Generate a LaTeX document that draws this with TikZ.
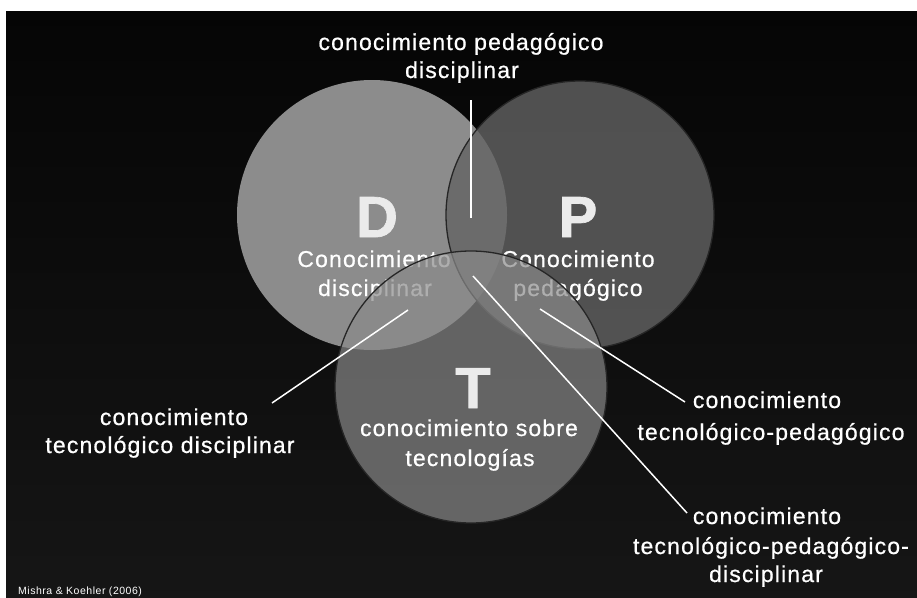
\documentclass[tikz,border=0pt]{standalone}
\usepackage{fontspec}
\setmainfont{Liberation Sans}[LetterSpace=5]
\newfontfamily\lblfont{Liberation Sans}[LetterSpace=5, FakeBold=0.7]
\newfontfamily\bigfont{Liberation Sans Bold}[FakeBold=1.2]
\definecolor{dfill}{gray}{0.55}
\definecolor{pfill}{gray}{0.39}
\definecolor{tfill}{gray}{0.54}
\definecolor{lettercol}{gray}{0.92}
\definecolor{bgtop}{gray}{0.02}
\definecolor{bgbot}{gray}{0.085}
\begin{document}
\begin{tikzpicture}[x=1pt,y=-1pt,
  lbl/.style={text=white, font=\lblfont\fontsize{23}{29}\selectfont, inner sep=0pt, anchor=base},
  bigletter/.style={font=\bigfont\fontsize{58}{58}\selectfont, inner sep=0pt, anchor=base, text=lettercol},
  conn/.style={draw=white, line width=1.5pt},
  ring/.style={draw=black!85, line width=1.3pt}]
\useasboundingbox (0,0) rectangle (917,597);
\fill[white] (0,0) rectangle (917,597);
\shade[top color=bgtop, bottom color=bgbot] (6,11) rectangle (917,597);

% D circle
\fill[dfill] (372,215) circle[radius=135pt];
\node[bigletter] (D) at (377,237) {D};
\node[lbl] (Dt1) at (374,267) {Conocimiento};
\node[lbl] (Dt2) at (375,296) {disciplinar};

% P circle
\fill[pfill, fill opacity=0.8] (580,215) circle[radius=134pt];
\draw[ring] (580,215) circle[radius=134pt];
\node[bigletter] (P) at (578,237) {P};
\node[lbl] (Pt1) at (578,267) {Conocimiento};
\node[lbl] (Pt2) at (578,296) {pedagógico};

% T circle
\fill[tfill, fill opacity=0.69] (471,387) circle[radius=136pt];
\draw[ring] (471,387) circle[radius=136pt];
\node[bigletter] (T) at (473,408) {T};
\node[lbl] (Tt1) at (469,436) {conocimiento sobre};
\node[lbl] (Tt2) at (470,466) {tecnologías};

% outer labels
\node[lbl] (top1) at (461,50) {conocimiento pedagógico};
\node[lbl] (top2) at (462,78) {disciplinar};
\node[lbl] (left1) at (174,425) {conocimiento};
\node[lbl] (left2) at (170,453) {tecnológico disciplinar};
\node[lbl] (r1a) at (767,408) {conocimiento};
\node[lbl] (r1b) at (771,440) {tecnológico-pedagógico};
\node[lbl] (r2a) at (767,524) {conocimiento};
\node[lbl] (r2b) at (771,554) {tecnológico-pedagógico-};
\node[lbl] (r2c) at (766,582) {disciplinar};

\node[anchor=base west, inner sep=0pt, text=white,
      font=\fontsize{10.5}{12}\selectfont] (cite) at (18,594) {Mishra \& Koehler (2006)};

% connectors
\coordinate (cTopA) at (471,100);
\coordinate (cTopB) at (471,218);
\coordinate (cLeftA) at (272,403);
\coordinate (cLeftB) at (408,310);
\coordinate (cR1A) at (685,402);
\coordinate (cR1B) at (540,309);
\coordinate (cR2A) at (687,513);
\coordinate (cR2B) at (473,276);
\draw[conn] (cTopA) -- (cTopB);
\draw[conn] (cLeftA) -- (cLeftB);
\draw[conn] (cR1A) -- (cR1B);
\draw[conn] (cR2A) -- (cR2B);
\end{tikzpicture}
\end{document}
